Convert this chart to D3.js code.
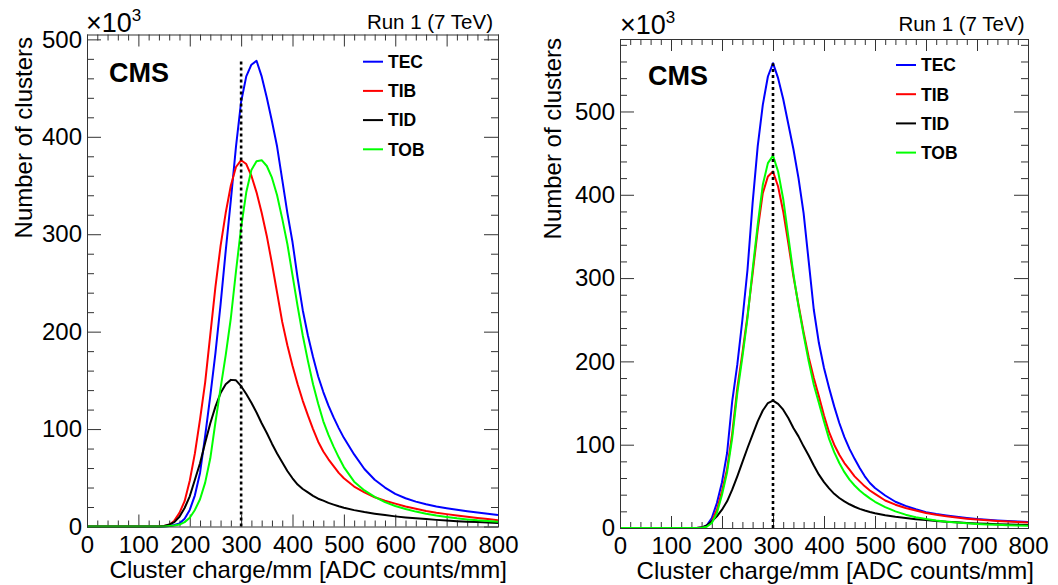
<!DOCTYPE html>
<html><head><meta charset="utf-8">
<script src="https://cdn.jsdelivr.net/npm/d3@7"></script>
<style>
html,body{margin:0;padding:0;background:#fff;}
svg{display:block;}
text{font-family:"Liberation Sans",Arial,Helvetica,sans-serif;fill:#000;}
</style></head><body>
<svg id="chart" width="1058" height="585"></svg>
<script>
// Sample positions along the x axis (cluster charge/mm, ADC counts/mm)
const charge = [0,100,140,150,160,170,180,190,200,210,220,230,240,250,260,270,280,290,300,310,320,330,340,350,360,370,380,390,400,410,420,430,440,450,460,470,480,490,500,520,540,560,580,600,620,640,660,680,700,720,740,760,780,800];

// Left panel (x10^3 clusters)
const leftTEC = [0,0,0,0,0.5,1.5,3,8,17,32,55,93,134,178,228,283,335,390,436,462,474,478,462,440,416,390,356,322,292,255,222,196,174,154,138,124,112,101,91,74,59,48,40,33.5,29,25.5,22.8,20.6,18.8,17.2,15.7,14.3,13,11.8];
const leftTIB = [0,0,0.3,0.5,1.5,6,14,26,47,75,110,148,197,246,288,322,350,369,376,372,360,343,322,298,270,240,210,186,165,146,129,114,100,87,77,69,62,55,49.5,41,35,30,26.5,23.5,20.5,18.2,16,14.2,12.7,11.3,10,8.8,7.6,6.5];
const leftTID = [0,0,0,0.5,2,4.5,10,19,31,48,65,86,106,123,137,146,150.5,150,144,136,127,117,106,96,85,75,66,57,49.5,43,38.5,35,31.5,28.5,26.5,24.3,22.5,20.8,19.3,16.8,14.8,13.2,11.7,10.4,9.3,8.4,7.6,6.8,6.1,5.5,5,4.5,4.1,3.7];
const leftTOB = [0,0,0,0,0.5,1,2,4.5,9,17,28,45,70,107,142,176,214,262,307,343,366,375,376,370,358,340,316,290,258,226,196,170,146,126,108,94,82,71,61,46,37,30.5,25,21,18,15.3,13,11.2,9.8,8.4,7.3,6.3,5.6,5];

// Right panel (x10^3 clusters)
const rightTEC = [0,0,0,0,0.5,3,12,30,55,90,152,196,250,310,390,458,508,542,558,540,515,485,455,420,378,320,262,222,192,168,146,126,109,95,83,72,62,54,48,39,31.5,26.5,22.5,19,16.8,15,13.4,12,10.8,9.9,9.1,8.4,7.8,7.3];
const rightTIB = [0,0,0,0,0.5,2,8,22,44,71,113,168,210,255,305,358,402,422,428,410,380,342,302,268,235,205,180,158,135,115,100,88,78,70,62,56,50,45,41,33,28,24,21,18,15.8,14,12.5,11.2,10.1,9.2,8.4,7.7,7.1,6.6];
const rightTID = [0,0,0,0,0.5,3,8,14,22,32,46,62,79,96,112,128,141,150,153,149,142,132,120,110,98,87,75,64,55,47.5,41,36,32,28.5,25.5,23,21,19.3,17.8,15.3,13.4,11.9,10.6,9.5,8.5,7.6,6.8,6.1,5.5,5,4.6,4.2,3.9,3.6];
const rightTOB = [0,0,0,0,0.3,1.5,6,18,40,67,108,162,205,252,310,364,412,438,447,428,395,350,305,266,232,200,172,150,128,107,91,78,67,58,51,45,40,35.5,31.5,25,20,16,13,10.8,9,7.6,6.5,5.6,4.9,4.3,3.8,3.4,3,2.7];

const detectors = ["TEC","TIB","TID","TOB"];
const detectorColors = ["#0000ff","#ff0000","#000000","#00ff00"];
const xTickValues = [0,100,200,300,400,500,600,700,800];
const yTickValues = [0,100,200,300,400,500];
const markerCharge = 300;
const xTitle = "Cluster charge/mm [ADC counts/mm]";
const yTitle = "Number of clusters";
const runLabel = "Run 1 (7 TeV)";
const expLabel = "\u00d710";
const expSup = "3";
const cmsLabel = "CMS";

// Layout (positions only)
const panels = [
  {series:[leftTEC,leftTIB,leftTID,leftTOB], yMax:505,
   x0:87, x1:498, y0:526.5, y1:34.5,
   yTitleX:32, yTitleY:37, xTitleX:507, xTitleY:578,
   expX:86, expY:32, runX:493, runY:28.5, cmsX:109, cmsY:81.5,
   legLineX:363, legTextX:388, legY0:61.7},
  {series:[rightTEC,rightTIB,rightTID,rightTOB], yMax:587,
   x0:620, x1:1028, y0:528, y1:39,
   yTitleX:561, yTitleY:38, xTitleX:1034, xTitleY:579,
   expX:620, expY:33.5, runX:1024.5, runY:30.5, cmsX:648, cmsY:85,
   legLineX:896, legTextX:921, legY0:65}
];

const svg = d3.select("#chart");
const frameColor = "#333";

panels.forEach((p, pi) => {
  const x = d3.scaleLinear().domain([0, 800]).range([p.x0, p.x1]);
  const y = d3.scaleLinear().domain([0, p.yMax]).range([p.y0, p.y1]);
  const g = svg.append("g");

  const xMinor = d3.range(0, 801, 20).filter(v => v % 100 !== 0);
  const yMinor = d3.range(0, p.yMax, 20).filter(v => v % 100 !== 0);

  function styleAxis(sel, fs) {
    sel.select(".domain").remove();
    sel.selectAll(".tick line").attr("stroke", frameColor);
    sel.selectAll(".tick text").attr("font-size", fs).attr("fill", "#000")
       .style("font-family", '"Liberation Sans",Arial,sans-serif');
  }

  // bottom
  g.append("g").attr("transform", `translate(0,${p.y0})`)
    .call(d3.axisBottom(x).tickValues(xTickValues).tickSize(-12).tickPadding(9).tickFormat(d3.format("d")))
    .call(s => styleAxis(s, 24));
  g.append("g").attr("transform", `translate(0,${p.y0})`)
    .call(d3.axisBottom(x).tickValues(xMinor).tickSize(-6).tickFormat(""))
    .call(s => styleAxis(s, 24));
  // top
  g.append("g").attr("transform", `translate(0,${p.y1})`)
    .call(d3.axisTop(x).tickValues(xTickValues).tickSize(-12).tickFormat(""))
    .call(s => styleAxis(s, 24));
  g.append("g").attr("transform", `translate(0,${p.y1})`)
    .call(d3.axisTop(x).tickValues(xMinor).tickSize(-6).tickFormat(""))
    .call(s => styleAxis(s, 24));
  // left
  g.append("g").attr("transform", `translate(${p.x0},0)`)
    .call(d3.axisLeft(y).tickValues(yTickValues).tickSize(-14).tickPadding(5).tickFormat(d3.format("d")))
    .call(s => styleAxis(s, 24));
  g.append("g").attr("transform", `translate(${p.x0},0)`)
    .call(d3.axisLeft(y).tickValues(yMinor).tickSize(-7).tickFormat(""))
    .call(s => styleAxis(s, 24));
  // right
  g.append("g").attr("transform", `translate(${p.x1},0)`)
    .call(d3.axisRight(y).tickValues(yTickValues).tickSize(-14).tickFormat(""))
    .call(s => styleAxis(s, 24));
  g.append("g").attr("transform", `translate(${p.x1},0)`)
    .call(d3.axisRight(y).tickValues(yMinor).tickSize(-7).tickFormat(""))
    .call(s => styleAxis(s, 24));

  // clip + curves
  const clipId = "clip" + pi;
  svg.append("clipPath").attr("id", clipId).append("rect")
    .attr("x", p.x0).attr("y", p.y1).attr("width", p.x1 - p.x0).attr("height", p.y0 - p.y1 + 2);
  const line = d3.line().x((d, i) => x(charge[i])).y(d => y(d));
  const cg = g.append("g").attr("clip-path", `url(#${clipId})`);
  p.series.forEach((s, i) => {
    cg.append("path").datum(s).attr("d", line)
      .attr("fill", "none").attr("stroke", detectorColors[i])
      .attr("stroke-width", 2).attr("stroke-linejoin", "round");
  });

  // dotted marker line at the nominal peak
  cg.append("line")
    .attr("x1", x(markerCharge)).attr("x2", x(markerCharge))
    .attr("y1", y(0)).attr("y2", y(d3.max(p.series[0])))
    .attr("stroke", "#000").attr("stroke-width", 2.6).attr("stroke-dasharray", "3,3");

  // frame
  g.append("rect").attr("x", p.x0 + 0.5).attr("y", p.y1 + 0.5)
    .attr("width", p.x1 - p.x0).attr("height", p.y0 - p.y1)
    .attr("fill", "none").attr("stroke", frameColor).attr("stroke-width", 1);

  // titles
  g.append("text").attr("x", p.xTitleX).attr("y", p.xTitleY)
    .attr("text-anchor", "end").attr("font-size", 24).text(xTitle);
  g.append("text").attr("transform", `translate(${p.yTitleX},${p.yTitleY}) rotate(-90)`)
    .attr("text-anchor", "end").attr("font-size", 24).text(yTitle);

  const ex = g.append("text").attr("x", p.expX).attr("y", p.expY).attr("font-size", 27);
  ex.append("tspan").text(expLabel);
  ex.append("tspan").attr("font-size", 17).attr("dy", -11).text(expSup);

  g.append("text").attr("x", p.runX).attr("y", p.runY)
    .attr("text-anchor", "end").attr("font-size", 20.5).text(runLabel);

  g.append("text").attr("x", p.cmsX).attr("y", p.cmsY)
    .attr("font-size", 27).attr("font-weight", "bold").text(cmsLabel);

  // legend
  detectors.forEach((d, i) => {
    const ly = p.legY0 + i * 29.2;
    g.append("line").attr("x1", p.legLineX).attr("x2", p.legLineX + 20)
      .attr("y1", ly).attr("y2", ly)
      .attr("stroke", detectorColors[i]).attr("stroke-width", 2);
    g.append("text").attr("x", p.legTextX).attr("y", ly).attr("dy", "0.36em")
      .attr("font-size", 17.5).attr("font-weight", "bold").text(d);
  });
});
</script>
</body></html>
